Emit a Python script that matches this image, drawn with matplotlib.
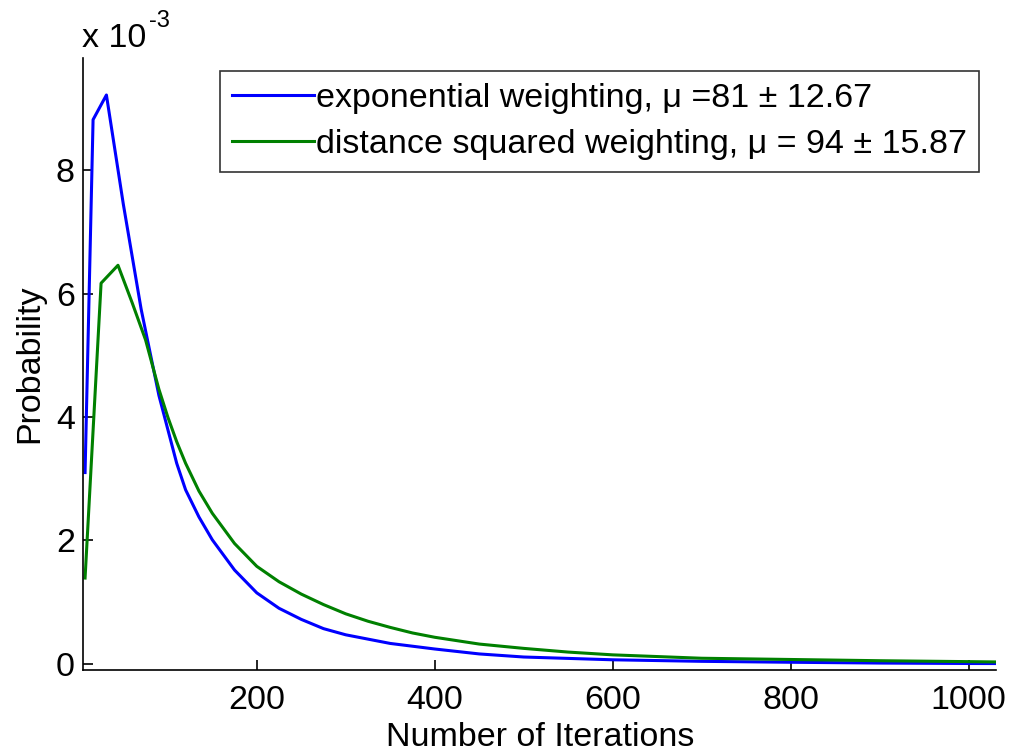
import matplotlib
matplotlib.use("Agg")
import matplotlib.pyplot as plt
from matplotlib.ticker import FuncFormatter

plt.rcParams['font.family'] = ['Liberation Sans', 'DejaVu Sans']

# Probability of convergence vs. number of iterations
exp_iters = [7, 16, 31, 50, 70, 90, 100, 110, 120, 135, 150, 175, 200, 225,
             250, 275, 300, 350, 400, 450, 500, 600, 700, 800, 900, 1000, 1031]
exp_prob = [3.10e-3, 8.82e-3, 9.22e-3, 7.45e-3, 5.75e-3, 4.35e-3, 3.80e-3,
            3.25e-3, 2.82e-3, 2.38e-3, 2.01e-3, 1.52e-3, 1.15e-3, 0.90e-3,
            0.72e-3, 0.57e-3, 0.47e-3, 0.33e-3, 0.24e-3, 0.16e-3, 0.11e-3,
            0.065e-3, 0.04e-3, 0.025e-3, 0.012e-3, 0.005e-3, 0.004e-3]

dsq_iters = [7, 25, 44, 60, 75, 90, 100, 110, 120, 135, 150, 175, 200, 225,
             250, 275, 300, 325, 350, 375, 400, 450, 500, 550, 600, 700, 800,
             900, 1000, 1031]
dsq_prob = [1.39e-3, 6.17e-3, 6.46e-3, 5.85e-3, 5.25e-3, 4.45e-3, 4.00e-3,
            3.60e-3, 3.25e-3, 2.80e-3, 2.44e-3, 1.95e-3, 1.58e-3, 1.33e-3,
            1.13e-3, 0.96e-3, 0.81e-3, 0.69e-3, 0.59e-3, 0.50e-3, 0.43e-3,
            0.32e-3, 0.25e-3, 0.19e-3, 0.145e-3, 0.09e-3, 0.07e-3, 0.05e-3,
            0.035e-3, 0.03e-3]

exp_label = "exponential weighting, μ =81 ± 12.67"
dsq_label = "distance squared weighting, μ = 94 ± 15.87"

x_ticks = [200, 400, 600, 800, 1000]
y_ticks = [0, 2e-3, 4e-3, 6e-3, 8e-3]

FS = 24.5

fig = plt.figure(figsize=(10.12, 7.56), dpi=100)
ax = fig.add_axes([0.0823, 0.1138, 0.902, 0.8095])

ax.plot(exp_iters, exp_prob, color=(0, 0, 1), lw=2.2, label=exp_label)
ax.plot(dsq_iters, dsq_prob, color=(0, 0.5, 0), lw=2.2, label=dsq_label)

ax.set_xlim(5, 1031)
ax.set_ylim(-0.1e-3, 9.82e-3)
ax.set_xticks(x_ticks)
ax.set_yticks(y_ticks)
ax.yaxis.set_major_formatter(FuncFormatter(lambda v, p: f"{v * 1e3:g}"))

for s in ('top', 'right'):
    ax.spines[s].set_visible(False)
for s in ('left', 'bottom'):
    ax.spines[s].set_linewidth(1.2)
ax.tick_params(direction='in', length=7.5, width=1.2, labelsize=FS)
ax.tick_params(axis='x', pad=11)
ax.tick_params(axis='y', pad=6)

ax.set_xlabel("Number of Iterations", fontsize=FS, labelpad=4)
ax.set_ylabel("Probability", fontsize=FS, labelpad=8)

# exponent multiplier above the y axis
fig.text(82 / 1012, 1 - 47 / 756, "x 10", fontsize=FS, ha='left', va='baseline')
fig.text(149 / 1012, 1 - 27 / 756, "-3", fontsize=17, ha='left', va='baseline')

leg = ax.legend(loc='upper left', bbox_to_anchor=(220 / 1012, 1 - 71 / 756),
                bbox_transform=fig.transFigure, fontsize=FS, frameon=True,
                fancybox=False, edgecolor='black', handlelength=2.4,
                handletextpad=0.08, borderpad=0.35, labelspacing=0.45,
                borderaxespad=0)
leg.get_frame().set_linewidth(1.2)

fig.savefig("out.png", dpi=100, facecolor='white')
